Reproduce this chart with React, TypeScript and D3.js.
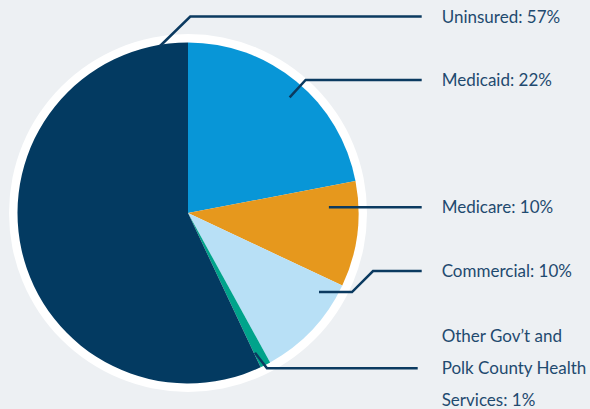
import React from "react";
import * as d3 from "d3";

const categories = ["Medicaid", "Medicare", "Commercial", "Other Gov’t and Polk County Health Services", "Uninsured"];
const values = [22, 10, 10, 1, 57];
const colors = ["#0896d7", "#e6981d", "#b8e0f6", "#00a38b", "#033a61"];
const labelLines = [
  ["Medicaid: 22%"],
  ["Medicare: 10%"],
  ["Commercial: 10%"],
  ["Other Gov’t and", "Polk County Health", "Services: 1%"],
  ["Uninsured: 57%"],
];

// layout: leader anchor (angle in degrees, radius), label line y
const leaderLayout = [
  { angle: 41.3, r: 154, y: 80, elbowDx: 16 },
  { angle: 87.7, r: 141, y: 207.3, elbowDx: 0 },
  { angle: 121.1, r: 153, y: 271, elbowDx: 33, flatDx: 33 },
  { angle: 154.4, r: 155, y: 368.3, elbowDx: 12 },
  { angle: 350.2, r: 168.7, y: 16.5, elbowDx: 31 },
];

const W = 590;
const H = 409;
const cx = 188;
const cy = 213;
const R = 170.5;
const ringR = 179;
const lineEndX = 421.7;
const textX = 441.7;

export default function App() {
  const pie = d3.pie<number>().sort(null).value((d) => d)(values);
  const arc = d3.arc<d3.PieArcDatum<number>>().innerRadius(0).outerRadius(R);

  const leaders = leaderLayout.map((L, i) => {
    const a = (L.angle * Math.PI) / 180;
    const sx = cx + L.r * Math.sin(a);
    const sy = cy - L.r * Math.cos(a);
    let pts: [number, number][];
    if (i === 2) {
      const fx = sx + (L.flatDx || 0);
      const dy = sy - L.y;
      pts = [[sx, sy], [fx, sy], [fx + dy, L.y], [lineEndX, L.y]];
    } else if (L.elbowDx === 0) {
      pts = [[sx, L.y], [lineEndX, L.y]];
    } else {
      pts = [[sx, sy], [sx + Math.abs(L.elbowDx), L.y], [i === 3 ? 417.7 : lineEndX, L.y]];
    }
    return pts;
  });

  const line = d3.line<[number, number]>();

  return (
    <svg width={W} height={H} style={{ position: "absolute", left: 0, top: 0 }}>
      <rect x={0} y={0} width={W} height={H} fill="#edf0f3" />
      <circle cx={cx} cy={cy} r={ringR} fill="#ffffff" />
      <g transform={`translate(${cx},${cy})`}>
        {pie.map((p, i) => (
          <path key={categories[i]} d={arc(p) || ""} fill={colors[i]} />
        ))}
      </g>
      {leaders.map((pts, i) => (
        <path key={"l" + i} d={line(pts) || ""} fill="none" stroke="#0b3a60" strokeWidth={2.5} />
      ))}
      {labelLines.map((lines, i) => {
        const L = leaderLayout[i];
        const n = lines.length;
        const mid = n === 1 ? 0 : 1;
        return (
          <text
            key={"t" + i}
            x={textX}
            fontFamily="Lato, 'Open Sans', sans-serif"
            fontSize={17}
            fontWeight={400}
            fill="#1f4a6f"
          >
            {lines.map((s, j) => (
              <tspan key={j} x={textX} y={L.y + 6 + (j - mid) * 32}>
                {s}
              </tspan>
            ))}
          </text>
        );
      })}
    </svg>
  );
}
